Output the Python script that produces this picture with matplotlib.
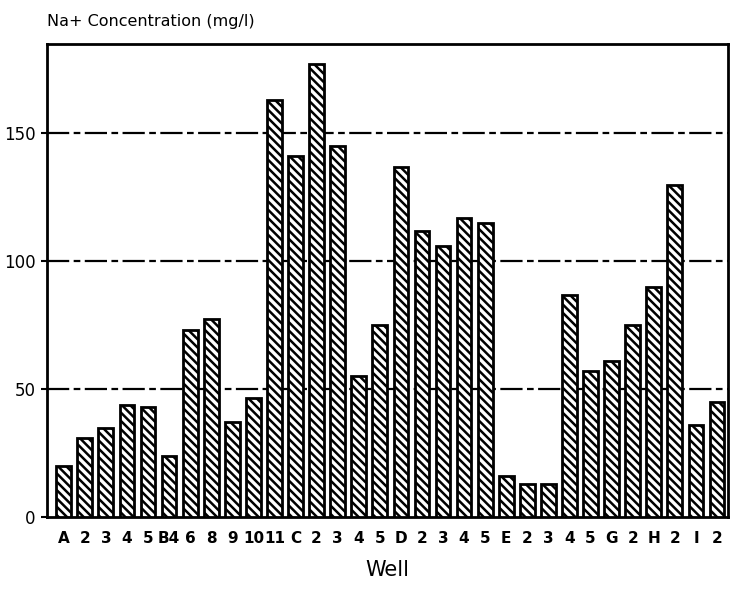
import numpy as np
import matplotlib
matplotlib.use('Agg')
from matplotlib import pyplot as plt

### DATA
wells = ['A', '2', '3', '4', '5', 'B4', '6', '8', '9', '10', '11',
         'C', '2', '3', '4', '5', 'D', '2', '3', '4', '5',
         'E', '2', '3', '4', '5', 'G', '2', 'H', '2', 'I', '2']
na_conc = [20, 31, 35, 44, 43, 24, 73, 77.5, 37, 46.5, 163,
           141, 177, 145, 55, 75, 137, 112, 106, 117, 115,
           16, 13, 13, 87, 57, 61, 75, 90, 130, 36, 45]
y_ticks = [0, 50, 100, 150]

### STYLE
plt.rcParams['hatch.linewidth'] = 1.8
plt.rcParams['hatch.color'] = 'black'
plt.rcParams['font.family'] = 'DejaVu Sans'

### PLOT
fig = plt.figure(figsize = (7.32, 5.94), dpi = 100)
ax = fig.add_axes([0.064, 0.1296, 0.9305, 0.7964])

x = np.arange(len(wells))
ax.bar(x, na_conc, width = 0.7, color = 'white', edgecolor = 'black',
       linewidth = 2, hatch = '\\\\\\\\', zorder = 3)

for yv in y_ticks[1:]:
    ax.axhline(yv, color = 'black', linestyle = (0, (10, 2, 3, 2)), linewidth = 1.6, zorder = 1)

ax.set_xlim(-0.8, 31.52)
ax.set_ylim(0, 185)
ax.set_xticks(x)
ax.set_xticklabels(wells, fontsize = 11, fontweight = 'bold')
ax.set_yticks(y_ticks)
ax.set_yticklabels([str(v) for v in y_ticks], fontsize = 12)
ax.tick_params(axis = 'x', length = 0, pad = 10)
ax.tick_params(axis = 'y', length = 4, width = 1.5, pad = 4)
for s in ax.spines.values():
    s.set_linewidth(2)

fig.text(0.064, 0.963, 'Na+ Concentration (mg/l)', fontsize = 11.5, ha = 'left', va = 'center')
ax.set_xlabel('Well', fontsize = 15, labelpad = 10)

fig.savefig('out.png', dpi = 100)
